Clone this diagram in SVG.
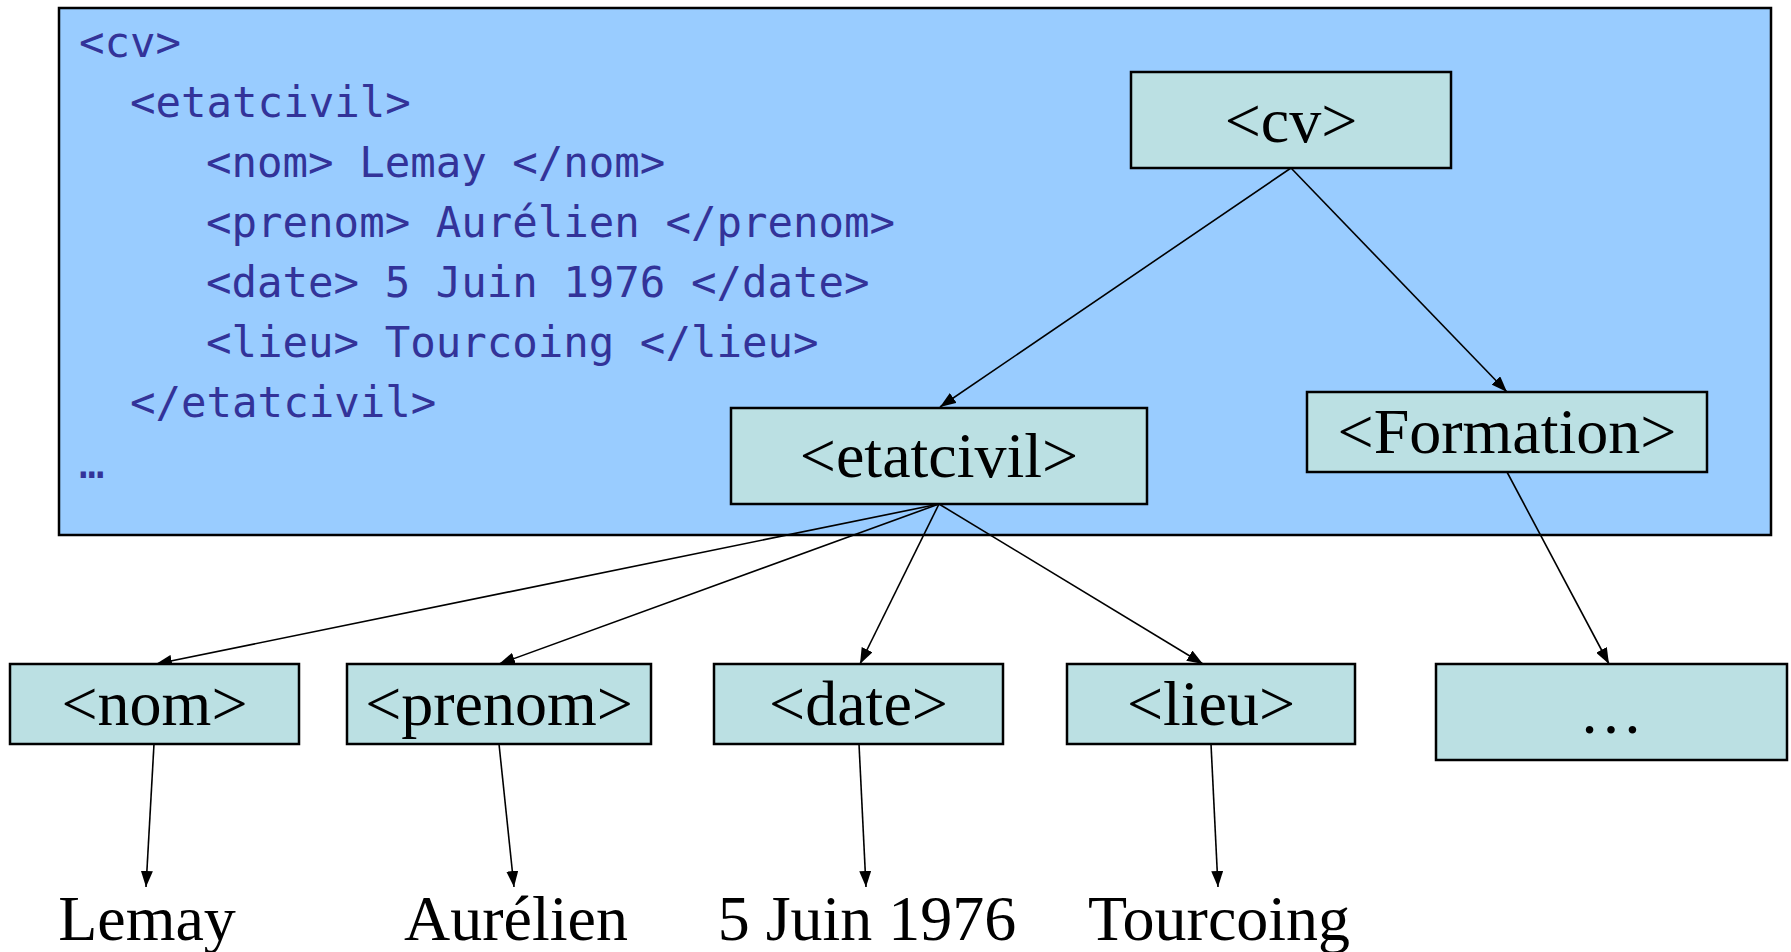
<svg xmlns="http://www.w3.org/2000/svg" width="1791" height="952" viewBox="0 0 1791 952">
<style>
.code{font-family:"DejaVu Sans Mono",monospace;font-size:42.4px;fill:#333399}
.box{fill:#BBE0E3;stroke:#000;stroke-width:2.5}
.lbl{font-family:"Liberation Serif","Times New Roman",serif;font-size:64px;fill:#000;text-anchor:middle}
.edge{stroke:#000;stroke-width:1.6;fill:none;marker-end:url(#ah)}
</style>
<defs>
<marker id="ah" markerUnits="userSpaceOnUse" markerWidth="16" markerHeight="12" refX="16" refY="6" orient="auto">
<path d="M0,0 L16,6 L0,12 z" fill="#000"/>
</marker>
</defs>
<rect width="1791" height="952" fill="#fff"/>
<g id="code-panel">
<rect x="59" y="8" width="1712" height="527" fill="#99CCFF" stroke="#000" stroke-width="2.5"/>
<text class="code" x="79" y="57">&lt;cv&gt;</text>
<text class="code" x="130" y="117">&lt;etatcivil&gt;</text>
<text class="code" x="206" y="177">&lt;nom&gt; Lemay &lt;/nom&gt;</text>
<text class="code" x="206" y="237">&lt;prenom&gt; Aurélien &lt;/prenom&gt;</text>
<text class="code" x="206" y="297">&lt;date&gt; 5 Juin 1976 &lt;/date&gt;</text>
<text class="code" x="206" y="357">&lt;lieu&gt; Tourcoing &lt;/lieu&gt;</text>
<text class="code" x="130" y="417">&lt;/etatcivil&gt;</text>
<text class="code" x="79" y="478">…</text>
</g>
<g id="connectors">
<line class="edge" x1="1291" y1="168" x2="940" y2="407"/>
<line class="edge" x1="1291" y1="168" x2="1507" y2="392"/>
<line class="edge" x1="939" y1="504" x2="156" y2="664"/>
<line class="edge" x1="939" y1="504" x2="499" y2="664"/>
<line class="edge" x1="939" y1="504" x2="860" y2="664"/>
<line class="edge" x1="939" y1="504" x2="1203" y2="664"/>
<line class="edge" x1="1507" y1="472" x2="1609" y2="664"/>
<line class="edge" x1="154" y1="744" x2="146" y2="887"/>
<line class="edge" x1="499" y1="744" x2="514" y2="887"/>
<line class="edge" x1="859" y1="744" x2="866" y2="887"/>
<line class="edge" x1="1211" y1="744" x2="1218" y2="887"/>
</g>
<g id="node-cv"><rect class="box" x="1131" y="72" width="320" height="96"/><text class="lbl" x="1291" y="142">&lt;cv&gt;</text></g>
<g id="node-etatcivil"><rect class="box" x="731" y="408" width="416" height="96"/><text class="lbl" x="939" y="477">&lt;etatcivil&gt;</text></g>
<g id="node-formation"><rect class="box" x="1307" y="392" width="400" height="80"/><text class="lbl" x="1507" y="453">&lt;Formation&gt;</text></g>
<g id="node-nom"><rect class="box" x="10" y="664" width="289" height="80"/><text class="lbl" x="154.5" y="725">&lt;nom&gt;</text></g>
<g id="node-prenom"><rect class="box" x="347" y="664" width="304" height="80"/><text class="lbl" x="499" y="725">&lt;prenom&gt;</text></g>
<g id="node-date"><rect class="box" x="714" y="664" width="289" height="80"/><text class="lbl" x="858.5" y="725">&lt;date&gt;</text></g>
<g id="node-lieu"><rect class="box" x="1067" y="664" width="288" height="80"/><text class="lbl" x="1211" y="725">&lt;lieu&gt;</text></g>
<g id="node-more"><rect class="box" x="1436" y="664" width="351" height="96"/><text class="lbl" x="1611" y="733">…</text></g>
<g id="leaf-lemay"><text class="lbl" x="147" y="940">Lemay</text></g>
<g id="leaf-aurelien"><text class="lbl" x="516" y="940">Aurélien</text></g>
<g id="leaf-date"><text class="lbl" x="867" y="940">5 Juin 1976</text></g>
<g id="leaf-tourcoing"><text class="lbl" x="1219" y="940">Tourcoing</text></g>
</svg>
